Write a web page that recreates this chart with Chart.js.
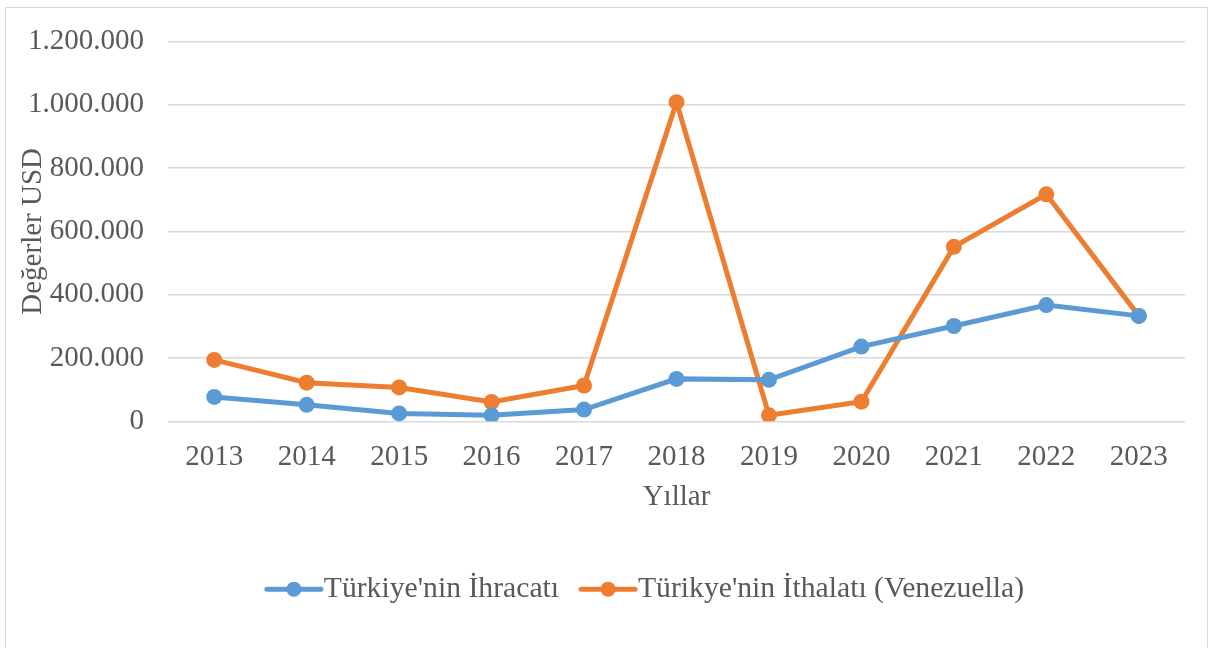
<!DOCTYPE html>
<html>
<head>
<meta charset="utf-8">
<script src="https://cdn.jsdelivr.net/npm/chart.js@4"></script>
<style>
    html, body { margin: 0; padding: 0; background: #fff; }
    #wrap { width: 1211px; height: 648px; position: relative; }
</style>
</head>
<body>
<div id="wrap"><canvas id="chart" width="1211" height="648"></canvas></div>
<script>
const years = ['2013', '2014', '2015', '2016', '2017', '2018', '2019', '2020', '2021', '2022', '2023'];
const exportsUsd = [77000, 52000, 25000, 19000, 37000, 134000, 131000, 236000, 301000, 367000, 333000];
const importsUsd = [194000, 122000, 107000, 61000, 113000, 1008000, 19000, 62000, 551000, 717000, 333000];
const seriesNames = ["Türkiye'nin İhracatı", "Türikye'nin İthalatı (Venezuella)"];
const yTitle = 'Değerler USD';
const xTitle = 'Yıllar';

const blue = '#5b9bd5';
const orange = '#ed7d31';
const textColor = '#595959';
const font = { family: "'Liberation Serif', 'Times New Roman', serif", size: 29 };
const legendFont = { family: "'Liberation Serif', 'Times New Roman', serif", size: 29.7 };
const legendBox = 44;
const legendShift = 47;

function formatTr(v) {
    return String(v).replace(/\B(?=(\d{3})+(?!\d))/g, '.');
}

// frame around the chart, legend shift, and line+dot legend markers
const framePlugin = {
    id: 'frame',
    beforeDraw(chart) {
        const ctx = chart.ctx;
        ctx.save();
        ctx.strokeStyle = '#d9d9d9';
        ctx.lineWidth = 1;
        ctx.strokeRect(5.5, 7.5, 1202, 700);
        ctx.restore();
    },
    afterLayout(chart) {
        const legend = chart.legend;
        legend.left += legendShift;
        legend.right += legendShift;
    },
    afterDraw(chart) {
        const legend = chart.legend;
        if (!legend || !legend.legendHitBoxes) return;
        const ctx = chart.ctx;
        legend.legendHitBoxes.forEach((box, i) => {
            const color = chart.data.datasets[i].borderColor;
            const cy = box.top + box.height / 2;
            ctx.save();
            ctx.strokeStyle = color;
            ctx.fillStyle = color;
            ctx.lineWidth = 5;
            ctx.lineCap = 'round';
            ctx.beginPath();
            ctx.moveTo(box.left + 2, cy);
            ctx.lineTo(box.left + legendBox + 12, cy);
            ctx.stroke();
            ctx.beginPath();
            ctx.arc(box.left + (legendBox + 14) / 2, cy, 7.5, 0, Math.PI * 2);
            ctx.fill();
            ctx.restore();
        });
    }
};

new Chart(document.getElementById('chart'), {
    type: 'line',
    data: {
        labels: years,
        datasets: [
            {
                label: seriesNames[0],
                data: exportsUsd,
                borderColor: blue,
                backgroundColor: blue,
                borderWidth: 5,
                pointRadius: 8,
                pointBorderWidth: 0,
                pointHoverRadius: 8,
                tension: 0
            },
            {
                label: seriesNames[1],
                data: importsUsd,
                borderColor: orange,
                backgroundColor: orange,
                borderWidth: 5,
                pointRadius: 8,
                pointBorderWidth: 0,
                pointHoverRadius: 8,
                tension: 0
            }
        ]
    },
    options: {
        responsive: false,
        animation: false,
        devicePixelRatio: 1,
        layout: { padding: { top: 26, left: 10, right: 26, bottom: 34 } },
        plugins: {
            legend: {
                position: 'bottom',
                labels: {
                    color: textColor,
                    font: legendFont,
                    boxWidth: legendBox,
                    boxHeight: 5,
                    padding: 20,
                    generateLabels(chart) {
                        return chart.data.datasets.map((ds, i) => ({
                            text: ds.label,
                            fillStyle: 'rgba(0,0,0,0)',
                            strokeStyle: 'rgba(0,0,0,0)',
                            lineWidth: 0,
                            fontColor: textColor,
                            datasetIndex: i,
                            hidden: false
                        }));
                    }
                }
            },
            tooltip: { enabled: false }
        },
        scales: {
            x: {
                offset: true,
                grid: { display: false },
                border: { display: false },
                ticks: { color: textColor, font: font, padding: 11, maxRotation: 0 },
                title: { display: true, text: xTitle, color: textColor, font: font, padding: { top: 0, bottom: 40 } },
                afterFit(scale) { scale.height = 133; }
            },
            y: {
                min: 0,
                max: 1200000,
                grid: { color: '#d9d9d9', lineWidth: 1.5, drawTicks: false },
                border: { display: false },
                ticks: {
                    stepSize: 200000,
                    color: textColor,
                    font: font,
                    padding: 24,
                    callback: v => formatTr(v)
                },
                title: { display: true, text: yTitle, color: textColor, font: font, padding: { top: 6, bottom: 0 } },
                afterFit(scale) { scale.width = 158; }
            }
        }
    },
    plugins: [framePlugin]
});
</script>
</body>
</html>
